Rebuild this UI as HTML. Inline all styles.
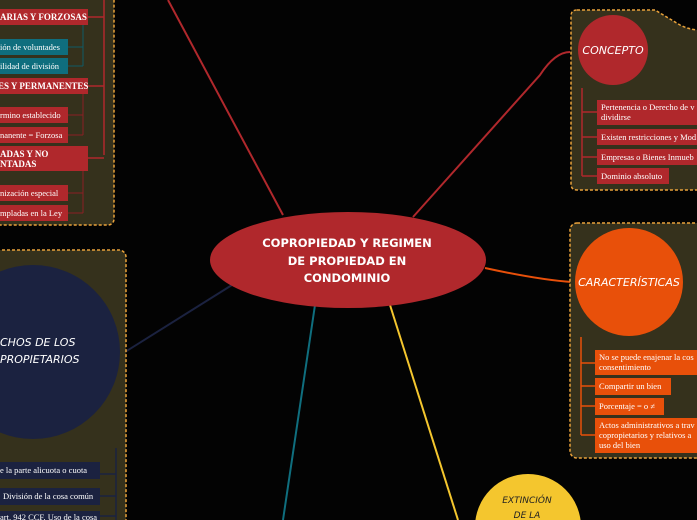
<!DOCTYPE html>
<html><head><meta charset="utf-8"><style>
html,body{margin:0;padding:0;background:#030303;width:697px;height:520px;overflow:hidden}
svg{display:block}
.s{font-family:"Liberation Serif",serif;font-size:8.5px;fill:#fff}
.b{font-family:"Liberation Serif",serif;font-size:9px;font-weight:bold;fill:#fff}
.h{font-family:"Comic Sans MS","DejaVu Sans",sans-serif;font-style:italic;font-size:11px;fill:#fff}
</style></head><body>
<svg width="697" height="520" viewBox="0 0 697 520">
<path d="M168,0 L283,215" stroke="#b0282c" stroke-width="2" fill="none"/>
<path d="M413,217 L540,75 Q555,52 570,52" stroke="#b0282c" stroke-width="2" fill="none"/>
<path d="M485,268 Q540,280 572,282" stroke="#e8500a" stroke-width="2" fill="none"/>
<path d="M232,285 L125,352" stroke="#1b2240" stroke-width="2" fill="none"/>
<path d="M315,305 L283,520" stroke="#0f6e7e" stroke-width="2" fill="none"/>
<path d="M390,305 L458,520" stroke="#f4c62e" stroke-width="2" fill="none"/>

<rect x="-10" y="-10" width="124" height="235" rx="6" fill="#35311c" stroke="#e9a23b" stroke-width="1.5" stroke-dasharray="3,2"/>
<path d="M104,0 V155 M88,17 H104 M88,86 H104 M88,158 H104" stroke="#b0282c" stroke-width="1.5" fill="none"/>
<path d="M83,25 V66 M68,47 H83 M68,66 H83" stroke="#0f5a66" stroke-width="1" fill="none"/>
<path d="M83,94 V135 M68,115 H83 M68,135 H83 M83,171 V213 M68,193 H83 M68,213 H83" stroke="#8a2024" stroke-width="1" fill="none"/>
<rect x="0" y="9" width="88" height="16" fill="#b0282c"/><text class="b" x="0" y="20">ARIAS Y FORZOSAS</text>
<rect x="0" y="39" width="68" height="16" fill="#0f6e7e"/><text class="s" x="0" y="50">ión de voluntades</text>
<rect x="0" y="58" width="68" height="16" fill="#0f6e7e"/><text class="s" x="0" y="69">ilidad de división</text>
<rect x="0" y="78" width="88" height="16" fill="#b0282c"/><text class="b" x="-2" y="89">ES Y PERMANENTES</text>
<rect x="0" y="107" width="68" height="16" fill="#b0282c"/><text class="s" x="0" y="118">rmino establecido</text>
<rect x="0" y="127" width="68" height="16" fill="#b0282c"/><text class="s" x="0" y="138">nanente = Forzosa</text>
<rect x="0" y="146" width="88" height="25" fill="#b0282c"/><text class="b" x="0" y="157">ADAS Y NO</text><text class="b" x="0" y="167">NTADAS</text>
<rect x="0" y="185" width="68" height="16" fill="#b0282c"/><text class="s" x="0" y="196">nización especial</text>
<rect x="0" y="205" width="68" height="16" fill="#b0282c"/><text class="s" x="0" y="216">mpladas en la Ley</text>

<path d="M577,10 H655 L680,25 Q690,30 700,30 V190 H577 Q571,190 571,184 V16 Q571,10 577,10Z" fill="#35311c" stroke="#e9a23b" stroke-width="1.5" stroke-dasharray="3,2"/>
<circle cx="613" cy="50" r="35" fill="#b0282c"/>
<text class="h" x="613" y="54" text-anchor="middle">CONCEPTO</text>
<path d="M582,88 V176 M582,112 H597 M582,137 H597 M582,157 H597 M582,176 H597" stroke="#b0282c" stroke-width="1.5" fill="none"/>
<rect x="597" y="100" width="110" height="25" fill="#b0282c"/><text class="s" x="601" y="110">Pertenencia o Derecho de v</text><text class="s" x="601" y="120">dividirse</text>
<rect x="597" y="129" width="110" height="16" fill="#b0282c"/><text class="s" x="601" y="140">Existen restricciones y Mod</text>
<rect x="597" y="149" width="110" height="16" fill="#b0282c"/><text class="s" x="601" y="160">Empresas o Bienes Inmueb</text>
<rect x="597" y="168" width="72" height="16" fill="#b0282c"/><text class="s" x="601" y="179">Dominio absoluto</text>

<rect x="570" y="223" width="140" height="235" rx="7" fill="#35311c" stroke="#e9a23b" stroke-width="1.5" stroke-dasharray="3,2"/>
<circle cx="629" cy="282" r="54" fill="#e8500a"/>
<text class="h" x="629" y="286" text-anchor="middle">CARACTERÍSTICAS</text>
<path d="M581,337 V435 M581,363 H595 M581,386 H595 M581,406 H595 M581,435 H595" stroke="#e8500a" stroke-width="1.5" fill="none"/>
<rect x="595" y="350" width="110" height="25" fill="#e8500a"/><text class="s" x="599" y="360">No se puede enajenar la cos</text><text class="s" x="599" y="370">consentimiento</text>
<rect x="595" y="378" width="76" height="17" fill="#e8500a"/><text class="s" x="599" y="389">Compartir un bien</text>
<rect x="595" y="398" width="69" height="17" fill="#e8500a"/><text class="s" x="599" y="409">Porcentaje = o ≠</text>
<rect x="595" y="418" width="110" height="35" fill="#e8500a"/><text class="s" x="599" y="428">Actos administrativos a trav</text><text class="s" x="599" y="438">copropietarios y relativos a</text><text class="s" x="599" y="448">uso del bien</text>

<rect x="-10" y="250" width="136" height="280" rx="7" fill="#35311c" stroke="#e9a23b" stroke-width="1.5" stroke-dasharray="3,2"/>
<circle cx="33" cy="352" r="87" fill="#1b2240"/>
<text class="h" x="0" y="346">CHOS DE LOS</text>
<text class="h" x="0" y="363">PROPIETARIOS</text>
<path d="M116,448 V520 M100,474 H116 M100,496 H116 M100,516 H116" stroke="#1b2240" stroke-width="1.5" fill="none"/>
<rect x="0" y="462" width="100" height="17" fill="#1b2240"/><text class="s" x="0" y="473">e la parte alicuota o cuota</text>
<rect x="0" y="488" width="100" height="17" fill="#1b2240"/><text class="s" x="3" y="499">División de la cosa común</text>
<rect x="0" y="511" width="100" height="9" fill="#1b2240"/><text class="s" x="0" y="520">art. 942 CCF. Uso de la cosa</text>

<ellipse cx="348" cy="260" rx="138" ry="48" fill="#b0282c"/>
<g font-family="'DejaVu Sans',sans-serif" font-weight="bold" font-size="11.5" fill="#fff" text-anchor="middle">
<text x="347" y="247">COPROPIEDAD Y REGIMEN</text>
<text x="347" y="265">DE PROPIEDAD EN</text>
<text x="347" y="282">CONDOMINIO</text></g>

<circle cx="528" cy="527" r="53" fill="#f4c62e"/>
<text x="527" y="503" font-family="'DejaVu Sans',sans-serif" font-style="italic" font-size="9" fill="#222" text-anchor="middle">EXTINCIÓN</text>
<text x="527" y="518" font-family="'DejaVu Sans',sans-serif" font-style="italic" font-size="9" fill="#222" text-anchor="middle">DE LA</text>
</svg>
</body></html>
